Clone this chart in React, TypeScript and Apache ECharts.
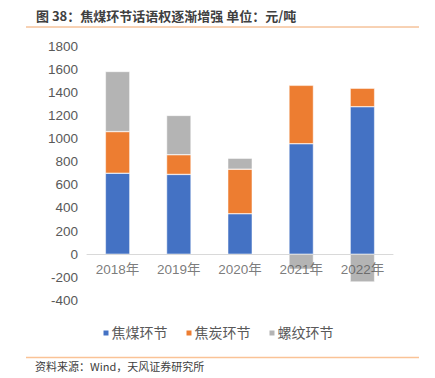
import React, { useEffect, useRef } from "react";
import * as echarts from "echarts";

const categories = ["2018年", "2019年", "2020年", "2021年", "2022年"];
const cokingCoal = [700, 690, 350, 955, 1275];
const coke = [360, 170, 385, 505, 160];
const rebar = [520, 340, 95, -130, -240];
const seriesNames = ["焦煤环节", "焦炭环节", "螺纹环节"];
const colors = ["#4472C4", "#ED7D31", "#B4B4B4"];

export default function App() {
  const ref = useRef<HTMLDivElement>(null);
  useEffect(() => {
    if (!ref.current) return;
    const chart = echarts.init(ref.current, null, { renderer: "svg" });
    const font = "'Liberation Sans', 'Noto Sans CJK SC', sans-serif";
    chart.setOption({
      animation: false,
      textStyle: { fontFamily: font },
      grid: { left: 87, right: 42, top: 46, bottom: 77.5 },
      legend: {
        data: seriesNames,
        top: 321,
        left: "center",
        icon: "rect",
        itemWidth: 7,
        itemHeight: 7,
        itemGap: 17,
        textStyle: { color: "#595959", fontSize: 14, fontFamily: font, padding: [0, 0, 0, -3] },
      },
      xAxis: {
        type: "category",
        data: categories,
        z: 5,
        axisLine: { onZero: true, lineStyle: { color: "#D9D9D9", width: 1 } },
        axisTick: { show: false },
        axisLabel: { show: false },
      },
      yAxis: {
        type: "value",
        min: -400,
        max: 1800,
        interval: 200,
        axisLine: { show: false },
        axisTick: { show: false },
        splitLine: { show: false },
        axisLabel: {
          color: "#595959",
          fontSize: 13.5,
          margin: 9,
          fontFamily: font,
          formatter: (v: number) => String(v),
        },
      },
      series: [
        ...[cokingCoal, coke, rebar].map((d, i) => ({
          name: seriesNames[i],
          type: "bar",
          stack: "total",
          data: d,
          barWidth: "40%",
          itemStyle: { color: colors[i], borderColor: "#ffffff", borderWidth: 0.5 },
        })),
        {
          name: "labels",
          type: "scatter",
          data: categories.map((c) => [c, 0]),
          symbolSize: 0,
          z: 10,
          silent: true,
          label: {
            show: true,
            position: "bottom",
            distance: 9,
            formatter: (p: any) => p.value[0],
            color: "#595959",
            fontSize: 13.5,
            fontFamily: font,
          },
        },
      ],
      graphic: [
        {
          type: "text",
          left: 36,
          top: 9,
          style: {
            text: "图 38：焦煤环节话语权逐渐增强 单位：元/吨",
            fill: "#404040",
            font: "bold 13px 'Noto Sans CJK SC', sans-serif",
          },
        },
        {
          type: "line",
          shape: { x1: 26, y1: 27, x2: 419, y2: 27 },
          style: { stroke: "#F0A468", lineWidth: 1 },
        },
        {
          type: "line",
          shape: { x1: 26, y1: 357.5, x2: 419, y2: 357.5 },
          style: { stroke: "#FAC396", lineWidth: 1.5 },
        },
        {
          type: "text",
          left: 35,
          top: 360,
          style: {
            text: "资料来源：Wind，天风证券研究所",
            fill: "#404040",
            font: "11px 'Noto Sans CJK SC', sans-serif",
          },
        },
      ],
    });
    return () => chart.dispose();
  }, []);
  return <div ref={ref} style={{ width: 435, height: 378, position: "absolute", left: 0, top: 0 }} />;
}
